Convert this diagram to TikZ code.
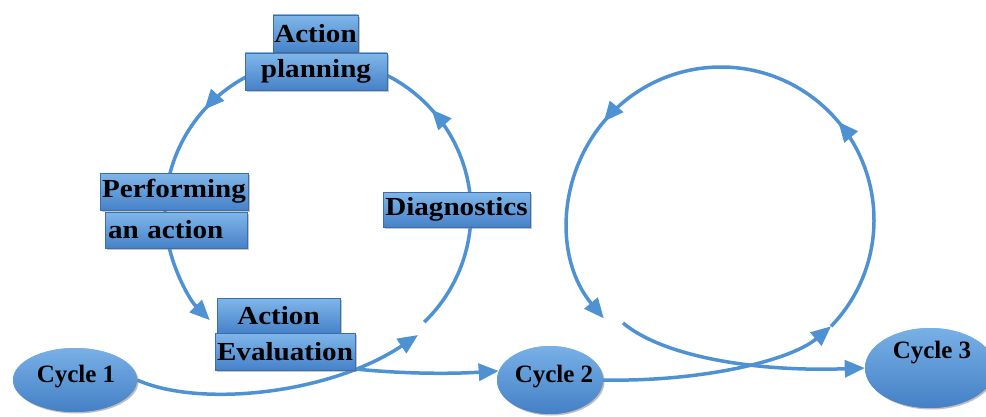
\documentclass[tikz,border=0pt]{standalone}
\usepackage{fontspec}
\setmainfont{Liberation Serif}
\newfontfamily\bxfont[FakeStretch=1.12]{Liberation Serif}
\usetikzlibrary{arrows.meta,decorations.markings,shadows,shapes.geometric,calc}
\definecolor{lineblue}{RGB}{79,146,211}
\definecolor{boxtop}{RGB}{128,182,234}
\definecolor{boxbot}{RGB}{70,130,200}
\definecolor{elltop}{RGB}{120,176,230}
\definecolor{ellbot}{RGB}{68,128,198}
\tikzset{
  cyc/.style={draw=lineblue, color=lineblue, line width=3.5pt},
  tipend/.style={-{Triangle[length=20pt,width=17pt]}},
  midtips/.style 2 args={postaction={decorate}, decoration={markings,
      mark=at position #1 with {\arrow{Triangle[length=20pt,width=17pt]}},
      mark=at position #2 with {\arrow{Triangle[length=20pt,width=17pt]}}}},
  lbl/.style={rectangle, top color=boxtop, bottom color=boxbot, draw=boxbot!85!black,
      line width=0.4pt, inner sep=0pt,
      font=\bxfont\bfseries\fontsize{26}{28}\selectfont,
      drop shadow={shadow xshift=2pt, shadow yshift=-2pt, opacity=0.45}},
  cyclenode/.style={ellipse, top color=elltop, bottom color=ellbot, inner sep=0pt,
      draw=none, drop shadow={shadow xshift=1.5pt, shadow yshift=-1.5pt, opacity=0.3}},
  cyctext/.style={anchor=base, inner sep=0pt, font=\bfseries\fontsize{25}{27}\selectfont}
}
\begin{document}
\begin{tikzpicture}[x=1pt,y=1pt]
\useasboundingbox (0,0) rectangle (986,416);

% circle centres and points
\coordinate (o1) at (318,204);
\coordinate (o2) at (721,196);
\coordinate (a1) at ($(o1)+(-46:153)$);
\coordinate (bStart) at ($(o1)+(236:153)$);
\coordinate (aTip) at (418,81);
\coordinate (cTip) at ($(o2)+(-44:153)$);
\coordinate (dStart) at (623,93);

% cycle ellipses (positions)
\path (75,36) node[cyclenode, minimum width=124pt, minimum height=64pt] (c1) {};
\path (550,36) node[cyclenode, minimum width=106pt, minimum height=68pt] (c2) {};
\path (930,48) node[cyclenode, minimum width=130pt, minimum height=80pt] (c3) {};

% circle 1
\draw[cyc, tipend, midtips={0.325}{0.679}] (a1) arc[start angle=-46, end angle=225, radius=153];
% circle 2
\draw[cyc, tipend, midtips={0.318}{0.697}] (cTip) arc[start angle=-44, end angle=220, radius=153];

% connecting curves
\draw[cyc, tipend] (c1.east) .. controls (200,8) and (330,22) .. (aTip);
\draw[cyc, tipend] (bStart) .. controls (290,45) and (420,40) .. (c2.170);
\draw[cyc, tipend] (c2.east) .. controls (700,34) and (790,55) .. (cTip);
\draw[cyc, tipend] (dStart) .. controls (665,58) and (760,44) .. (c3.west);

% redraw ellipses on top
\path (75,36) node[cyclenode, minimum width=124pt, minimum height=64pt] (c1b) {};
\path (550,36) node[cyclenode, minimum width=106pt, minimum height=68pt] (c2b) {};
\path (930,48) node[cyclenode, minimum width=130pt, minimum height=80pt] (c3b) {};
\node[cyctext] (t1) at (76,34) {Cycle 1};
\node[cyctext] (t2) at (554,34) {Cycle 2};
\node[cyctext] (t3) at (932,58) {Cycle 3};

% labels
\node[lbl, minimum width=142pt, minimum height=37pt] (ap2) at (316,344.5) {planning};
\node[lbl, minimum width=85pt, minimum height=37pt] (ap1) at (315.5,382.5) {Action};
\node[lbl, minimum width=142pt, minimum height=36pt, text width=136pt, align=left] (pa2) at (176,186) {an action};
\node[lbl, minimum width=148pt, minimum height=37pt] (pa1) at (174,224.5) {Performing};
\node[lbl, minimum width=123pt, minimum height=35pt] (ae1) at (278.5,100.5) {Action};
\node[lbl, minimum width=140pt, minimum height=37pt] (ae2) at (285,64.5) {Evaluation};
\node[lbl, minimum width=147pt, minimum height=35pt] (dg) at (456.5,206.5) {Diagnostics};
\end{tikzpicture}
\end{document}
